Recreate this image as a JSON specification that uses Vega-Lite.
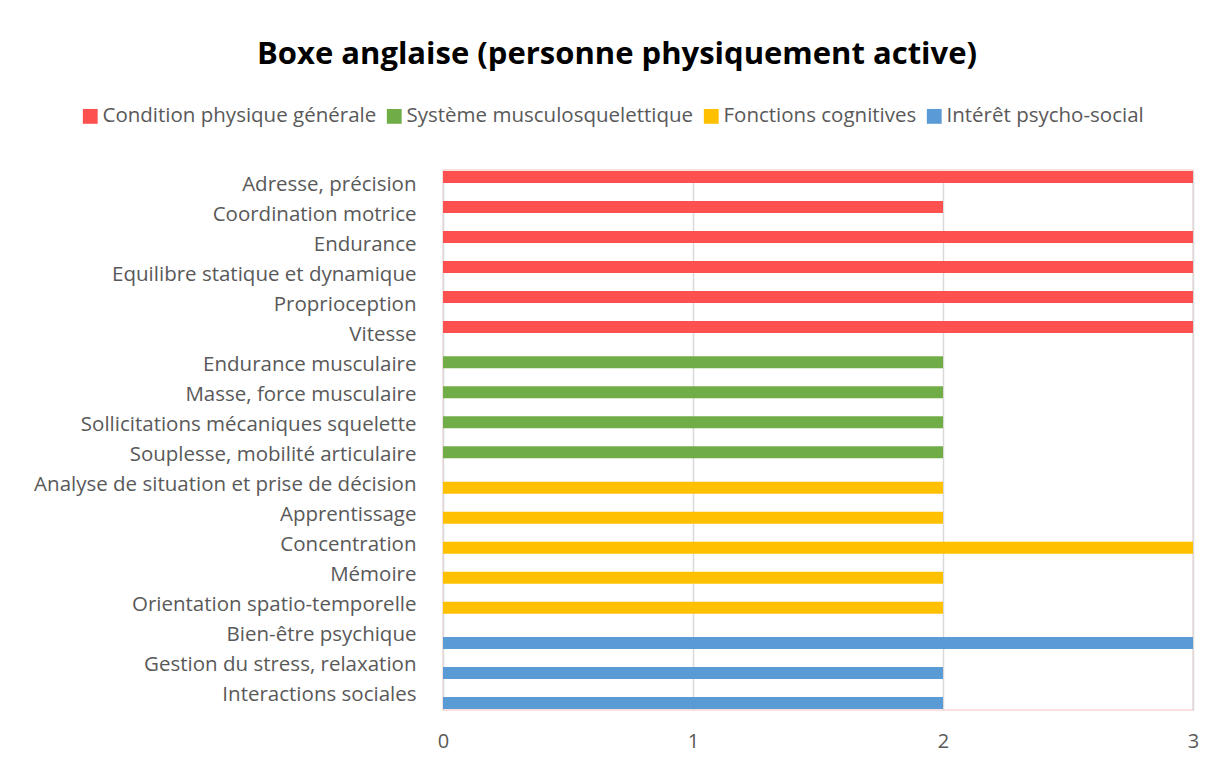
{
  "$schema": "https://vega.github.io/schema/vega-lite/v6.json",
  "width": 750,
  "height": 540,
  "autosize": "none",
  "padding": {"left": 443, "top": 170, "right": 25, "bottom": 55},
  "background": "white",
  "title": {
    "text": "Boxe anglaise (personne physiquement active)",
    "font": "Open Sans",
    "fontSize": 31,
    "fontWeight": "bold",
    "color": "#000000",
    "anchor": "middle",
    "dx": -201,
    "offset": 35
  },
  "data": {
    "values": [
      {"qualite": "Adresse, précision", "categorie": "Condition physique générale", "valeur": 3},
      {"qualite": "Coordination motrice", "categorie": "Condition physique générale", "valeur": 2},
      {"qualite": "Endurance", "categorie": "Condition physique générale", "valeur": 3},
      {"qualite": "Equilibre statique et dynamique", "categorie": "Condition physique générale", "valeur": 3},
      {"qualite": "Proprioception", "categorie": "Condition physique générale", "valeur": 3},
      {"qualite": "Vitesse", "categorie": "Condition physique générale", "valeur": 3},
      {"qualite": "Endurance musculaire", "categorie": "Système musculosquelettique", "valeur": 2},
      {"qualite": "Masse,  force musculaire", "categorie": "Système musculosquelettique", "valeur": 2},
      {"qualite": "Sollicitations mécaniques squelette", "categorie": "Système musculosquelettique", "valeur": 2},
      {"qualite": "Souplesse, mobilité articulaire", "categorie": "Système musculosquelettique", "valeur": 2},
      {"qualite": "Analyse de situation et prise de décision", "categorie": "Fonctions cognitives", "valeur": 2},
      {"qualite": "Apprentissage", "categorie": "Fonctions cognitives", "valeur": 2},
      {"qualite": "Concentration", "categorie": "Fonctions cognitives", "valeur": 3},
      {"qualite": "Mémoire", "categorie": "Fonctions cognitives", "valeur": 2},
      {"qualite": "Orientation spatio-temporelle", "categorie": "Fonctions cognitives", "valeur": 2},
      {"qualite": "Bien-être psychique", "categorie": "Intérêt psycho-social", "valeur": 3},
      {"qualite": "Gestion du stress, relaxation", "categorie": "Intérêt psycho-social", "valeur": 2},
      {"qualite": "Interactions sociales", "categorie": "Intérêt psycho-social", "valeur": 2}
    ]
  },
  "mark": {"type": "bar", "height": 12},
  "encoding": {
    "y": {
      "field": "qualite",
      "type": "nominal",
      "sort": null,
      "title": null,
      "scale": {"paddingInner": 0.2889, "paddingOuter": 0.1444},
      "axis": {
        "labelFont": "Open Sans",
        "labelFontSize": 20.5,
        "labelColor": "#595959",
        "labelPadding": 27,
        "ticks": false,
        "domain": false,
        "labelLimit": 500
      }
    },
    "yOffset": {
      "field": "categorie",
      "type": "nominal",
      "sort": ["Condition physique générale", "Système musculosquelettique", "Fonctions cognitives", "Intérêt psycho-social"]
    },
    "x": {
      "field": "valeur",
      "type": "quantitative",
      "title": null,
      "scale": {"domain": [0, 3], "nice": false},
      "axis": {
        "values": [0, 1, 2, 3],
        "labelFont": "Open Sans",
        "labelFontSize": 20,
        "labelColor": "#595959",
        "labelPadding": 21,
        "labelFlush": false,
        "ticks": false,
        "domain": false,
        "grid": true,
        "gridColor": "#d9d9d9",
        "gridWidth": 1.5
      }
    },
    "color": {
      "field": "categorie",
      "type": "nominal",
      "title": null,
      "sort": ["Condition physique générale", "Système musculosquelettique", "Fonctions cognitives", "Intérêt psycho-social"],
      "scale": {
        "domain": ["Condition physique générale", "Système musculosquelettique", "Fonctions cognitives", "Intérêt psycho-social"],
        "range": ["#FF5050", "#70AD47", "#FFC000", "#5B9BD5"]
      },
      "legend": {
        "orient": "none",
        "direction": "horizontal",
        "legendX": -363,
        "legendY": -64,
        "symbolType": "square",
        "symbolSize": 220,
        "symbolStrokeWidth": 0,
        "symbolOpacity": 1,
        "labelFont": "Open Sans",
        "labelFontSize": 20.5,
        "labelColor": "#595959",
        "labelOffset": 2,
        "columnPadding": 7,
        "labelLimit": 400
      }
    }
  },
  "config": {
    "view": {"stroke": "#f9d6d6", "strokeWidth": 1.5}
  }
}
